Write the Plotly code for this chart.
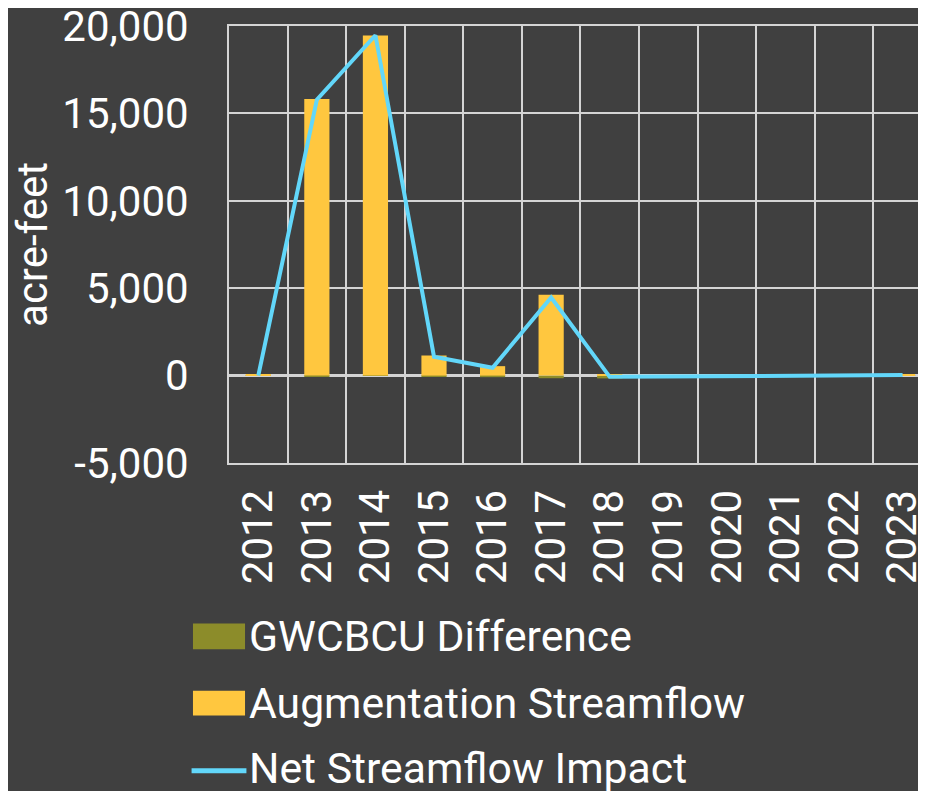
import plotly.graph_objects as go

years = ["2012", "2013", "2014", "2015", "2016", "2017", "2018", "2019", "2020", "2021", "2022", "2023"]
gwcbcu_difference = [-20, -30, -20, -50, -90, -150, -160, -110, -80, -50, -30, -20]
augmentation_streamflow = [60, 15830, 19450, 1150, 540, 4620, 90, 0, 0, 0, 0, 70]
net_streamflow_impact = [0, 15790, 19470, 1080, 450, 4470, -70, -60, -40, -20, 0, 30]
y_ticks = [-5000, 0, 5000, 10000, 15000, 20000]
y_tick_labels = ["-5,000", "0", "5,000", "10,000", "15,000", "20,000"]

series_names = ["GWCBCU Difference", "Augmentation Streamflow", "Net Streamflow Impact"]
series_colors = ["#8C8C2A", "#FFC73F", "#62D7FA"]

BG = "#404040"
GRID = "#D4D4D4"
FONT = "Roboto"
FS = 42
LEG_FS = 42.7

fig = go.Figure()
fig.add_trace(go.Bar(
    x=years, y=gwcbcu_difference, name=series_names[0],
    marker=dict(color=series_colors[0], line=dict(width=0)), width=0.43,
    showlegend=False,
))
fig.add_trace(go.Bar(
    x=years, y=augmentation_streamflow, name=series_names[1],
    marker=dict(color=series_colors[1], line=dict(width=0)), width=0.43,
    showlegend=False,
))
fig.add_trace(go.Scatter(
    x=years, y=net_streamflow_impact, name=series_names[2],
    mode="lines", line=dict(color=series_colors[2], width=4),
    showlegend=False,
))

# Legend drawn below the plot (large swatches as in the reference)
legend_rows_y = [-0.397, -0.549, -0.698]
sym_x0, sym_x1 = -0.0517, 0.0230
text_x = 0.0265
shapes = [
    dict(type="rect", xref="paper", yref="paper", x0=sym_x0, x1=sym_x1,
         y0=legend_rows_y[0] - 0.029, y1=legend_rows_y[0] + 0.030,
         fillcolor=series_colors[0], line=dict(width=0), layer="above"),
    dict(type="rect", xref="paper", yref="paper", x0=sym_x0, x1=sym_x1,
         y0=legend_rows_y[1] - 0.029, y1=legend_rows_y[1] + 0.028,
         fillcolor=series_colors[1], line=dict(width=0), layer="above"),
    dict(type="line", xref="paper", yref="paper", x0=sym_x0 - 0.002, x1=sym_x1 + 0.002,
         y0=legend_rows_y[2] - 0.006, y1=legend_rows_y[2] - 0.006,
         line=dict(color=series_colors[2], width=5), layer="above"),
]
annotations = [
    dict(text=name, xref="paper", yref="paper", x=text_x, y=yy,
         xanchor="left", yanchor="middle", showarrow=False,
         font=dict(family=FONT, size=LEG_FS, color="white"))
    for name, yy in zip(series_names, legend_rows_y)
]

fig.update_layout(
    width=918, height=783,
    paper_bgcolor=BG, plot_bgcolor=BG,
    margin=dict(l=221, r=0, t=18, b=328),
    barmode="relative",
    font=dict(family=FONT, color="white", size=FS),
    showlegend=False,
    shapes=shapes,
    annotations=annotations,
    xaxis=dict(
        type="category", range=[-0.5, 11.4],
        tickson="boundaries", showgrid=True, gridcolor=GRID, gridwidth=2,
        tickangle=-90, ticks="", ticklabelstandoff=8,
        showline=True, linecolor=GRID, linewidth=2, mirror=True,
        tickfont=dict(size=FS, color="white", family=FONT),
        ticklabeloverflow="allow",
        fixedrange=True,
    ),
    yaxis=dict(
        range=[-5000, 20000], tickvals=y_ticks, ticktext=y_tick_labels,
        showgrid=True, gridcolor=GRID, gridwidth=2,
        zeroline=True, zerolinecolor=GRID, zerolinewidth=2.5,
        showline=True, linecolor=GRID, linewidth=2,
        ticks="", ticklabelstandoff=30, ticklabeloverflow="allow",
        tickfont=dict(size=FS, color="white", family=FONT),
        title=dict(text="acre-feet", font=dict(size=FS, color="white", family=FONT), standoff=11),
        automargin=False, fixedrange=True,
    ),
)

fig.write_html("out.html")
